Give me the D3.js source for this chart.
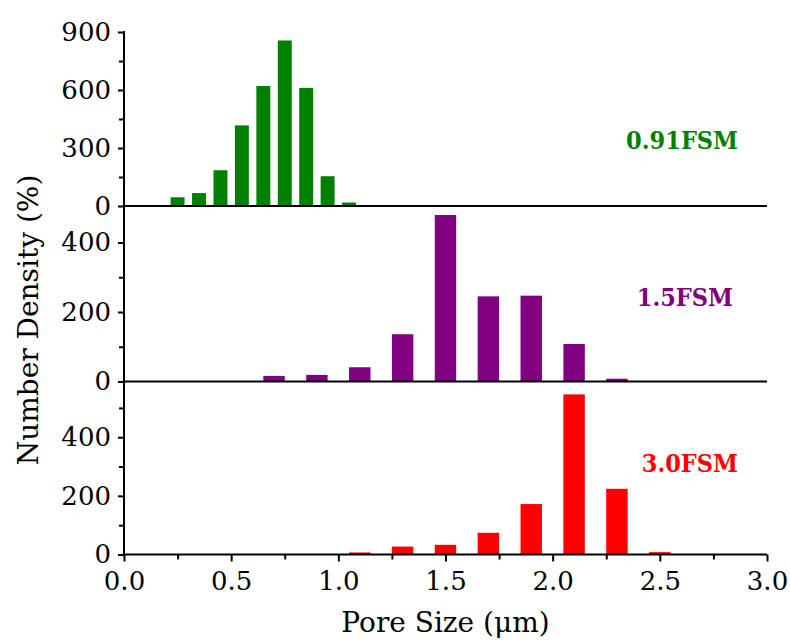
<!DOCTYPE html>
<html>
<head>
<meta charset="utf-8">
<script src="https://cdn.jsdelivr.net/npm/d3@7"></script>
<style>
  html, body { margin: 0; padding: 0; background: #fff; }
  svg { display: block; }
  .tick text { font-family: "DejaVu Serif", serif; font-size: 26px; fill: #000; }
  .title { font-family: "DejaVu Serif", serif; font-size: 28px; fill: #000; }
  .series { font-family: "DejaVu Serif Condensed", "DejaVu Serif", serif; font-size: 25px; font-weight: bold; }
</style>
</head>
<body>
<svg id="chart" width="790" height="640"></svg>
<script>
// Pore size bins (µm) and number density for each sample
const sizes091 = [0.25, 0.35, 0.45, 0.55, 0.65, 0.75, 0.85, 0.95, 1.05];
const density091 = [45, 67, 185, 417, 621, 856, 611, 154, 18];

const sizes15 = [0.7, 0.9, 1.1, 1.3, 1.5, 1.7, 1.9, 2.1, 2.3];
const density15 = [16, 19, 41, 136, 479, 245, 247, 108, 8];

const sizes30 = [1.1, 1.3, 1.5, 1.7, 1.9, 2.1, 2.3, 2.5];
const density30 = [7, 27, 33, 74, 172, 546, 224, 8];

const seriesNames = ["0.91FSM", "1.5FSM", "3.0FSM"];
const seriesColors = ["#008000", "#800080", "#ff0000"];

const xTicks = [0, 0.5, 1.0, 1.5, 2.0, 2.5, 3.0];
const yTicks091 = [0, 300, 600, 900];
const yTicks15 = [0, 200, 400];
const yTicks30 = [0, 200, 400];

// Layout
const left = 124, right = 767;
const svg = d3.select("#chart");
const x = d3.scaleLinear().domain([0, 3]).range([left, right]);

const panels = [
  { sizes: sizes091, values: density091, max: 900, top: 32, bottom: 206, ticks: yTicks091, minor: 150, barW: 0.065, label: [738, 149] },
  { sizes: sizes15, values: density15, max: 505, top: 206, bottom: 381.5, ticks: yTicks15, minor: 100, barW: 0.1, label: [733, 306] },
  { sizes: sizes30, values: density30, max: 590, top: 381.5, bottom: 554.5, ticks: yTicks30, minor: 100, barW: 0.1, label: [738, 472] }
];

panels.forEach((p, i) => {
  const y = d3.scaleLinear().domain([0, p.max]).range([p.bottom, p.top]);
  const g = svg.append("g");

  // bars
  g.selectAll("rect")
    .data(p.sizes.map((s, k) => ({ s, v: p.values[k] })))
    .join("rect")
    .attr("x", d => x(d.s - p.barW / 2))
    .attr("width", d => x(d.s + p.barW / 2) - x(d.s - p.barW / 2))
    .attr("y", d => y(d.v))
    .attr("height", d => y(0) - y(d.v))
    .attr("fill", seriesColors[i]);

  // minor ticks
  const minorVals = d3.range(p.minor, p.max, p.minor * 2).filter(v => v < p.max - 5);
  const minorAxis = d3.axisLeft(y).tickValues(minorVals).tickSize(5).tickFormat("");
  svg.append("g").attr("transform", `translate(${left},0)`).call(minorAxis)
    .call(a => a.select(".domain").remove())
    .selectAll("line").attr("stroke", "#000").attr("stroke-width", 2);

  // major ticks
  const axis = d3.axisLeft(y).tickValues(p.ticks).tickSize(6).tickPadding(7).tickFormat(d3.format("d"));
  svg.append("g").attr("transform", `translate(${left},0)`).call(axis)
    .call(a => a.select(".domain").remove())
    .call(a => a.selectAll("line").attr("stroke", "#000").attr("stroke-width", 2));

  // baseline of the panel
  svg.append("line")
    .attr("x1", left).attr("x2", right)
    .attr("y1", y(0)).attr("y2", y(0))
    .attr("stroke", "#000").attr("stroke-width", 2);

  // series label
  svg.append("text").attr("class", "series")
    .attr("x", p.label[0]).attr("y", p.label[1])
    .attr("text-anchor", "end")
    .attr("fill", seriesColors[i])
    .text(seriesNames[i]);
});

// left axis line across all panels
svg.append("line")
  .attr("x1", left).attr("x2", left)
  .attr("y1", 31).attr("y2", 555.5)
  .attr("stroke", "#000").attr("stroke-width", 2);

// bottom axis
const xMinor = d3.range(0.25, 3, 0.5);
svg.append("g").attr("transform", `translate(0,554.5)`)
  .call(d3.axisBottom(x).tickValues(xMinor).tickSize(5).tickFormat(""))
  .call(a => a.select(".domain").remove())
  .selectAll("line").attr("stroke", "#000").attr("stroke-width", 2);
svg.append("g").attr("transform", `translate(0,554.5)`)
  .call(d3.axisBottom(x).tickValues(xTicks).tickSize(7).tickPadding(10).tickFormat(d3.format(".1f")))
  .call(a => a.select(".domain").remove())
  .call(a => a.selectAll("line").attr("stroke", "#000").attr("stroke-width", 2));

// axis titles
svg.append("text").attr("class", "title")
  .attr("x", (left + right) / 2).attr("y", 632)
  .attr("text-anchor", "middle")
  .text("Pore Size (μm)");

svg.append("text").attr("class", "title")
  .attr("transform", "translate(38,320) rotate(-90)")
  .attr("text-anchor", "middle")
  .text("Number Density (%)");
</script>
</body>
</html>
